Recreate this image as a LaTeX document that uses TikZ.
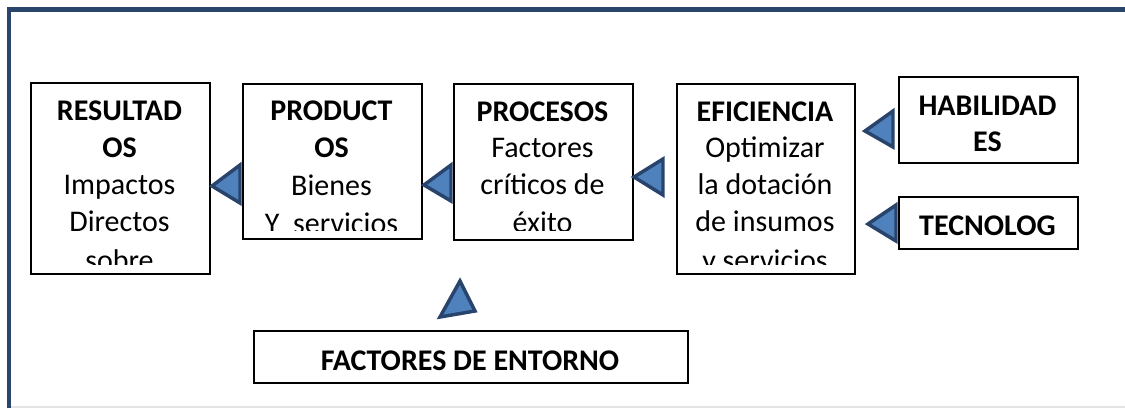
\documentclass[tikz,border=0pt]{standalone}
\usepackage{fontspec}
\setmainfont{Carlito}
\definecolor{frameBlue}{RGB}{41,69,106}
\definecolor{triFill}{RGB}{79,129,189}
\definecolor{triLine}{RGB}{40,68,108}
\definecolor{lightRule}{RGB}{228,228,228}
\begin{document}
\begin{tikzpicture}[x=0.75pt,y=-0.75pt,
  box/.style={draw=black, line width=1.3pt, anchor=north west, inner sep=0pt},
  tri/.style={fill=triFill, draw=triLine, line width=2.6pt, line join=miter},
  lbl/.style={anchor=base, inner sep=0pt, font=\fontsize{22.5}{27}\selectfont},
  ttl/.style={anchor=base, inner sep=0pt, font=\bfseries\fontsize{22.5}{27}\selectfont},
  framerule/.style={draw=frameBlue, line width=3.4pt},
  softrule/.style={draw=lightRule, line width=1.2pt}]
\useasboundingbox (0,0) rectangle (1125,408);
% frame
\draw[softrule] (11,407) -- (1125,407);
\draw[framerule] (9,408) -- (9,9.5) -- (1125,9.5);
% boxes
\node[box, minimum width=179*0.75pt, minimum height=191*0.75pt] (res) at (30,82) {};
\node[box, minimum width=179*0.75pt, minimum height=155*0.75pt] (prod) at (242,83) {};
\node[box, minimum width=179*0.75pt, minimum height=156*0.75pt] (proc) at (453,83) {};
\node[box, minimum width=178*0.75pt, minimum height=190*0.75pt] (efi) at (676,83) {};
\node[box, minimum width=179*0.75pt, minimum height=86*0.75pt] (hab) at (898,76) {};
\node[box, minimum width=179*0.75pt, minimum height=52*0.75pt] (tec) at (898,196) {};
\node[box, minimum width=434*0.75pt, minimum height=52*0.75pt] (fac) at (253,330) {};
% texts
\begin{scope}
\clip (res.north west) rectangle (res.east |- 0,264);
\node[ttl] (resA) at (119.5,120) {RESULTAD};
\node[ttl] (resB) at (119.5,157) {OS};
\node[lbl] (resC) at (119.5,194) {Impactos};
\node[lbl] (resD) at (119.5,231) {Directos};
\node[lbl] (resE) at (119.5,270) {sobre};
\end{scope}
\begin{scope}
\clip (prod.north west) rectangle (prod.east |- 0,230);
\node[ttl] (prodA) at (331.5,120) {PRODUCT};
\node[ttl] (prodB) at (331.5,157) {OS};
\node[lbl] (prodC) at (331.5,195) {Bienes};
\node[lbl] (prodD) at (331.5,233) {Y\ \ servicios};
\end{scope}
\begin{scope}
\clip (proc.north west) rectangle (proc.east |- 0,230);
\node[ttl] (procA) at (542.5,121) {PROCESOS};
\node[lbl] (procB) at (542.5,157) {Factores};
\node[lbl] (procC) at (542.5,194) {críticos de};
\node[lbl] (procD) at (542.5,232) {éxito};
\end{scope}
\begin{scope}
\clip (efi.north west) rectangle (efi.east |- 0,264);
\node[ttl] (efiA) at (765,121) {EFICIENCIA};
\node[lbl] (efiB) at (765,157) {Optimizar};
\node[lbl] (efiC) at (765,194) {la dotación};
\node[lbl] (efiD) at (765,231) {de insumos};
\node[lbl] (efiE) at (765,270) {y servicios};
\end{scope}
\node[ttl] (habA) at (987.5,115) {HABILIDAD};
\node[ttl] (habB) at (987.5,151) {ES};
\node[ttl] (tecA) at (987.5,235) {TECNOLOG};
\node[ttl] (facA) at (470,370) {FACTORES DE ENTORNO};
% triangles
\draw[tri] (212,186) -- (240,165) -- (240,203) -- cycle;
\draw[tri] (424,185) -- (451,165) -- (451,201) -- cycle;
\draw[tri] (634,177) -- (663,159) -- (663,195) -- cycle;
\draw[tri] (865,131) -- (893,111) -- (893,147) -- cycle;
\draw[tri] (868,224) -- (896,205) -- (896,241) -- cycle;
\draw[tri] (460,281) -- (440,317) -- (475,311) -- cycle;
\end{tikzpicture}
\end{document}
